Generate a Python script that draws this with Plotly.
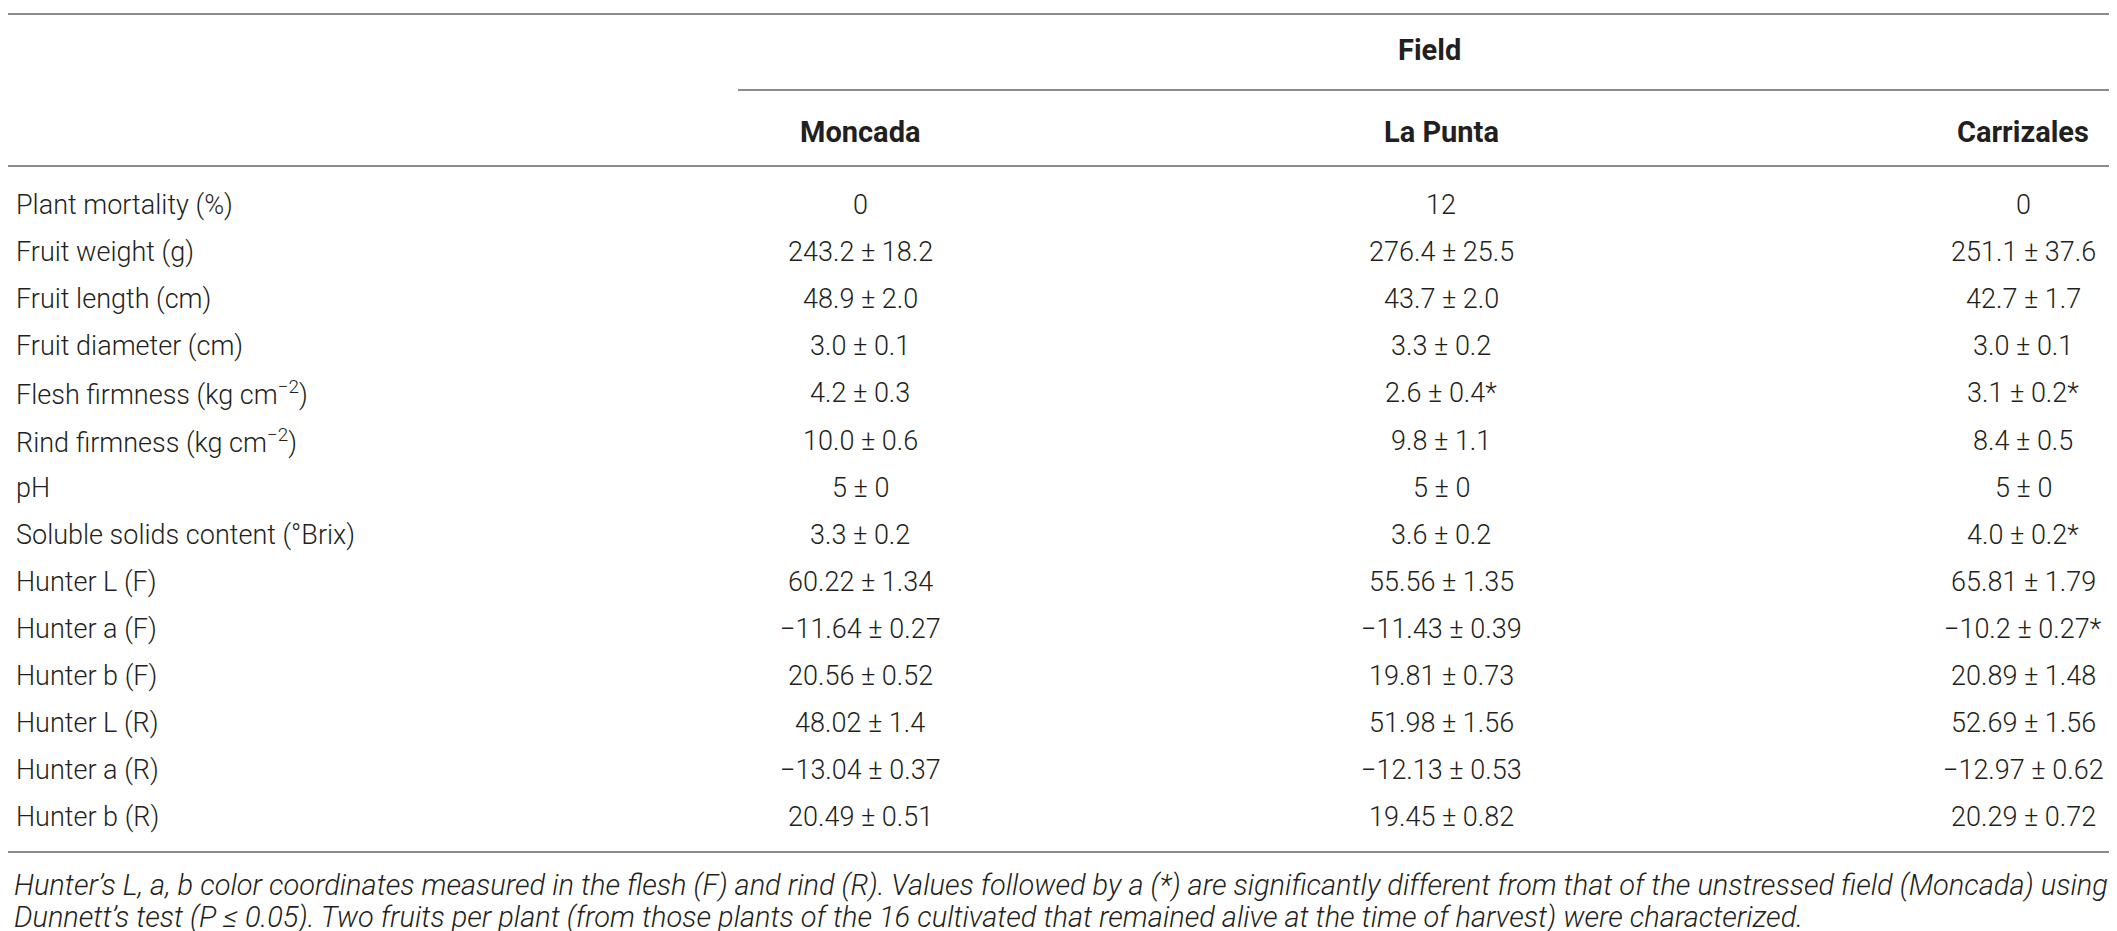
import plotly.graph_objects as go

# Table content
row_labels = ["Plant mortality (%)", "Fruit weight (g)", "Fruit length (cm)", "Fruit diameter (cm)",
              "Flesh firmness (kg cm<sup>−2</sup>)", "Rind firmness (kg cm<sup>−2</sup>)", "pH",
              "Soluble solids content (°Brix)", "Hunter L (F)", "Hunter a (F)", "Hunter b (F)",
              "Hunter L (R)", "Hunter a (R)", "Hunter b (R)"]
fields = ["Moncada", "La Punta", "Carrizales"]
moncada = ["0", "243.2 ± 18.2", "48.9 ± 2.0", "3.0 ± 0.1", "4.2 ± 0.3", "10.0 ± 0.6", "5 ± 0",
           "3.3 ± 0.2", "60.22 ± 1.34", "−11.64 ± 0.27", "20.56 ± 0.52", "48.02 ± 1.4",
           "−13.04 ± 0.37", "20.49 ± 0.51"]
la_punta = ["12", "276.4 ± 25.5", "43.7 ± 2.0", "3.3 ± 0.2", "2.6 ± 0.4*", "9.8 ± 1.1", "5 ± 0",
            "3.6 ± 0.2", "55.56 ± 1.35", "−11.43 ± 0.39", "19.81 ± 0.73", "51.98 ± 1.56",
            "−12.13 ± 0.53", "19.45 ± 0.82"]
carrizales = ["0", "251.1 ± 37.6", "42.7 ± 1.7", "3.0 ± 0.1", "3.1 ± 0.2*", "8.4 ± 0.5", "5 ± 0",
              "4.0 ± 0.2*", "65.81 ± 1.79", "−10.2 ± 0.27*", "20.89 ± 1.48", "52.69 ± 1.56",
              "−12.97 ± 0.62", "20.29 ± 0.72"]
group_title = "Field"
footnote = ["Hunter’s L, a, b color coordinates measured in the flesh (F) and rind (R). Values followed by a (*) "
            "are significantly different from that of the unstressed field (Moncada) using",
            "Dunnett’s test (P ≤ 0.05). Two fruits per plant (from those plants of the 16 cultivated that "
            "remained alive at the time of harvest) were characterized."]

W, H = 2117, 931
FONT = "Roboto"
TXT = "#231f20"
RULE = "#8c8c8c"

col_x = [852, 1433, 2015]
row_y0, row_dy = 197, 47.1

fig = go.Figure()
ann = []

# group header + column headers
ann.append(dict(x=1421, y=42, text="<b>" + group_title + "</b>", font=dict(size=29)))
for cx, name in zip(col_x, fields):
    ann.append(dict(x=cx, y=124, text="<b>" + name + "</b>", font=dict(size=29)))

# body
columns = [moncada, la_punta, carrizales]
for i, lab in enumerate(row_labels):
    y = row_y0 + i * row_dy
    ann.append(dict(x=6, y=y, text=lab, xanchor="left"))
    for cx, col in zip(col_x, columns):
        ann.append(dict(x=cx, y=y, text=col[i]))

# footnote
for j, line in enumerate(footnote):
    ann.append(dict(x=4, y=877 + j * 32, text="<i>" + line + "</i>", xanchor="left", font=dict(size=29)))

for a in ann:
    a.setdefault("xanchor", "center")
    a.update(xref="x", yref="y", yanchor="middle", showarrow=False)
    f = a.get("font", {})
    f.setdefault("size", 27)
    f.update(family=FONT, color=TXT, weight=300)
    a["font"] = f

# horizontal rules
rules = [(0, W, 6), (730, W - 4, 82), (0, W - 4, 158), (0, W - 4, 844)]
shapes = [dict(type="line", xref="x", yref="y", x0=a, x1=b, y0=y, y1=y,
               line=dict(color=RULE, width=2)) for a, b, y in rules]

fig.update_layout(
    width=W, height=H,
    margin=dict(l=0, r=0, t=0, b=0),
    paper_bgcolor="white", plot_bgcolor="white",
    xaxis=dict(range=[0, W], visible=False, fixedrange=True),
    yaxis=dict(range=[H, 0], visible=False, fixedrange=True),
    annotations=ann, shapes=shapes, showlegend=False,
)

fig.write_html("out.html")
